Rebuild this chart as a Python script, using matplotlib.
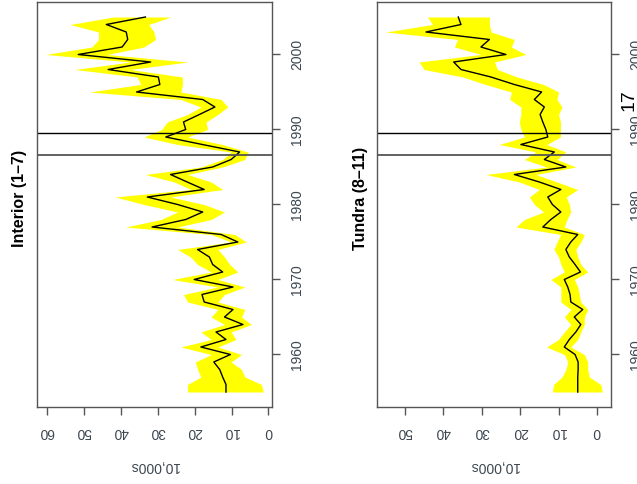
import numpy as np
import matplotlib.pyplot as plt

plt.rcParams["font.family"] = ["Liberation Sans", "DejaVu Sans"]

# survey years (one estimate per year)
years = np.arange(1955, 2006)

# Interior (strata 1-7), 10,000s of birds, with confidence band
interior = [11.5, 11.5, 12.4, 13.2, 14.8, 10.3, 18.3, 11.5, 14.2, 6.9,
            11.9, 9.6, 17.4, 18.0, 9.6, 20.1, 12.4, 15.1, 16.0, 19.2,
            8.3, 12.8, 31.5, 22.4, 17.8, 24.6, 32.8, 17.4, 22.0, 26.5,
            15.1, 10.1, 7.8, 17.9, 27.8, 22.4, 23.0, 18.7, 14.5, 17.8,
            35.7, 29.4, 29.8, 43.4, 31.9, 51.5, 39.6, 38.1, 38.5, 43.9,
            33.3]
interior_hi = [21.9, 21.9, 18.3, 19.2, 19.8, 15.5, 23.7, 15.5, 18.3, 11.9,
               15.5, 13.7, 21.9, 23.0, 13.7, 26.0, 15.5, 19.2, 21.1, 24.6,
               10.1, 15.5, 38.7, 29.1, 24.6, 33.7, 41.5, 21.0, 25.5, 33.3,
               18.3, 12.4, 10.1, 24.6, 33.7, 28.9, 27.4, 21.9, 18.3, 23.7,
               48.4, 34.6, 35.5, 52.4, 37.4, 60.3, 47.8, 46.0, 46.0, 53.7,
               42.0]
interior_lo = [1.4, 1.9, 6.4, 7.3, 10.1, 7.3, 13.7, 8.8, 10.1, 4.6,
               7.3, 6.4, 13.7, 11.9, 6.4, 13.7, 8.3, 10.5, 11.9, 13.7,
               6.0, 9.1, 24.6, 15.5, 11.9, 17.5, 26.5, 12.4, 15.5, 21.9,
               12.4, 6.4, 5.5, 12.5, 21.9, 16.5, 16.9, 13.7, 11.0, 12.8,
               23.7, 23.3, 23.3, 37.4, 21.9, 43.7, 33.7, 30.6, 31.0, 32.4,
               26.5]

# Tundra (strata 8-11)
tundra = [5.0, 5.0, 5.0, 4.9, 4.9, 5.7, 8.5, 7.2, 5.5, 4.2,
          5.9, 3.7, 6.8, 7.0, 7.6, 8.5, 4.3, 5.7, 7.2, 8.1,
          6.8, 5.0, 14.1, 12.0, 9.4, 11.6, 12.8, 9.4, 15.0, 21.5,
          8.1, 13.7, 11.1, 19.8, 12.8, 13.3, 14.1, 14.8, 13.7, 16.3,
          14.4, 21.5, 27.6, 35.4, 37.3, 23.7, 30.2, 28.0, 44.5, 35.4,
          36.1]
tundra_hi = [11.6, 11.3, 9.1, 8.1, 7.6, 8.5, 13.1, 10.0, 8.5, 6.8,
             8.5, 6.8, 9.4, 9.4, 9.4, 12.0, 8.5, 9.4, 10.0, 11.2,
             10.4, 9.4, 21.1, 18.9, 13.9, 16.3, 17.6, 15.0, 20.2, 28.9,
             13.1, 18.9, 15.9, 25.4, 18.9, 19.8, 20.2, 19.8, 19.8, 22.7,
             22.3, 29.0, 34.9, 45.0, 46.3, 30.2, 37.1, 36.3, 55.0, 42.8,
             44.1]
tundra_lo = [-1.4, -1.0, 2.0, 2.4, 2.4, 3.3, 6.8, 5.0, 4.2, 3.3,
             3.3, 2.4, 4.2, 4.6, 5.0, 5.9, 2.4, 4.2, 5.0, 5.5,
             4.2, 3.3, 8.5, 7.8, 6.8, 7.2, 8.0, 5.0, 10.4, 15.9,
             5.5, 10.4, 8.1, 13.1, 9.5, 9.5, 9.5, 10.0, 9.1, 10.4,
             10.0, 13.9, 20.8, 25.9, 26.7, 18.5, 22.3, 21.5, 27.6, 28.0,
             28.0]

year_ticks = [1960, 1970, 1980, 1990, 2000]
ref_years = [1989.5, 1986.6]

W, H = 637, 484
fig = plt.figure(figsize=(W / 100, H / 100), dpi=100)

LABEL_COLOR = "#3b4650"
AXIS_COLOR = "#555555"


def draw_panel(left, width, values, lo, hi, title, title_x, xticks):
    ax = fig.add_axes([left / W, (H - 407) / H, width / W, 405 / H])
    ax.fill_betweenx(years, lo, hi, color="#ffff00", lw=0)
    ax.plot(values, years, color="black", lw=1.0)
    ax.axhline(ref_years[0], color="black", lw=1.0)
    ax.axhline(ref_years[1], color=AXIS_COLOR, lw=1.3)

    # R style 4% padding, value axis reversed
    vmin, vmax = min(lo), max(hi)
    pad = 0.04 * (vmax - vmin)
    ax.set_xlim(vmax + pad, vmin - pad)
    ypad = 0.04 * (years[-1] - years[0])
    ax.set_ylim(years[0] - ypad, years[-1] + ypad)

    ax.set_xticks(xticks)
    ax.set_yticks(year_ticks)
    ax.yaxis.tick_right()
    ax.tick_params(axis="both", length=6, width=1, color=AXIS_COLOR,
                   labelcolor=LABEL_COLOR, labelsize=10, pad=7)
    ax.tick_params(axis="x", labelrotation=180)
    ax.tick_params(axis="y", labelrotation=90)
    for lbl in ax.get_yticklabels():
        lbl.set_va("center")
    for sp in ax.spines.values():
        sp.set_color(AXIS_COLOR)
        sp.set_linewidth(1.0)

    ax.set_xlabel("10,000s", rotation=180, fontsize=10, color=LABEL_COLOR,
                  labelpad=14)
    fig.text(title_x / W, 1 - 198 / H, title, rotation=90, fontsize=11.5,
             fontweight="bold", ha="center", va="center")
    return ax


draw_panel(37, 235, interior, interior_lo, interior_hi,
           "Interior (1\u20137)", 20, [0, 10, 20, 30, 40, 50, 60])
draw_panel(377, 234, tundra, tundra_lo, tundra_hi,
           "Tundra (8\u201311)", 360, [0, 10, 20, 30, 40, 50])

# page number at the edge of the scan
fig.text(629 / W, 1 - 100 / H, "17", rotation=90, fontsize=14,
         ha="center", va="center")

fig.savefig("out.png", dpi=100)
